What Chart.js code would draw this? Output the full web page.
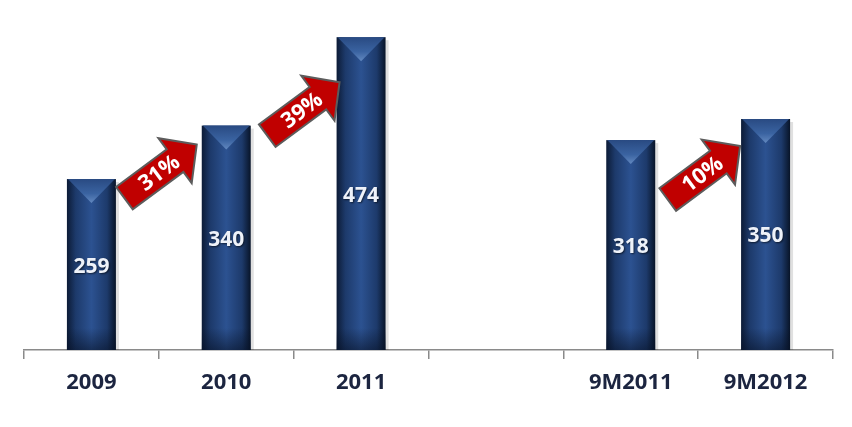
<!DOCTYPE html>
<html>
<head>
<meta charset="utf-8">
<script src="https://cdn.jsdelivr.net/npm/chart.js@4/dist/chart.umd.min.js"></script>
<style>
  html, body { margin: 0; padding: 0; background: #fff; }
  #wrap { width: 852px; height: 427px; }
</style>
</head>
<body>
<div id="wrap"><canvas id="revenueChart"></canvas></div>
<script>
// categories and values
const periods = ["2009", "2010", "2011", "", "9M2011", "9M2012"];
const revenue = [259, 340, 474, null, 318, 350];

// growth arrows: from bar -> to bar, tip shift from the target bar's left edge and drop below its top
const growthPairs = [[0, 1], [1, 2], [4, 5]];
const arrowShift = [-5, 3, -1];
const arrowDrop = [19, 45, 27];

const growthLabel = (a, b) => Math.round((revenue[b] / revenue[a] - 1) * 100) + "%";

// bar face: dark edges, lighter middle, chevron bevel on top
const barDecor = {
  id: "barDecor",
  afterDatasetsDraw(chart) {
    const ctx = chart.ctx;
    const meta = chart.getDatasetMeta(0);
    meta.data.forEach((bar, i) => {
      if (revenue[i] == null) return;
      const left = bar.x - bar.width / 2, right = bar.x + bar.width / 2;
      const top = bar.y, bottom = bar.base;
      ctx.save();

      // soft shadow on the right
      ctx.fillStyle = "rgba(0,0,0,0.12)";
      ctx.fillRect(right, top + 3, 3, bottom - top - 3);

      const g = ctx.createLinearGradient(left, 0, right, 0);
      g.addColorStop(0, "#0c1b36");
      g.addColorStop(0.18, "#1d3a6b");
      g.addColorStop(0.5, "#2c5291");
      g.addColorStop(0.82, "#1d3a6b");
      g.addColorStop(1, "#081428");
      ctx.fillStyle = g;
      ctx.fillRect(left, top, bar.width, bottom - top);

      // darker foot
      const f = ctx.createLinearGradient(0, bottom - 22, 0, bottom);
      f.addColorStop(0, "rgba(6,16,36,0)");
      f.addColorStop(1, "rgba(6,16,36,0.55)");
      ctx.fillStyle = f;
      ctx.fillRect(left, bottom - 22, bar.width, 22);

      // top chevron
      const depth = 24;
      ctx.beginPath();
      ctx.moveTo(left + 1, top);
      ctx.lineTo(right - 1, top);
      ctx.lineTo(bar.x, top + depth);
      ctx.closePath();
      const t = ctx.createLinearGradient(0, top, 0, top + depth);
      t.addColorStop(0, "#294a82");
      t.addColorStop(0.6, "#3a63a1");
      t.addColorStop(1, "#6389c0");
      ctx.fillStyle = t;
      ctx.fill();

      // value label
      ctx.font = "bold 21px 'Open Sans'";
      ctx.textAlign = "center";
      ctx.textBaseline = "middle";
      ctx.shadowColor = "rgba(0,0,0,0.6)";
      ctx.shadowBlur = 2;
      ctx.shadowOffsetX = 1;
      ctx.shadowOffsetY = 1;
      ctx.fillStyle = "#eef2f9";
      ctx.fillText(String(revenue[i]), bar.x, (top + bottom) / 2 + 2);
      ctx.restore();
    });
  }
};

// red growth arrows between bars
const growthArrows = {
  id: "growthArrows",
  afterDraw(chart) {
    const ctx = chart.ctx;
    const bars = chart.getDatasetMeta(0).data;
    const angle = -36.5 * Math.PI / 180;
    growthPairs.forEach(([a, b], k) => {
      const target = bars[b];
      const tipX = target.x - target.width / 2 + arrowShift[k];
      const tipY = target.y + arrowDrop[k];
      ctx.save();
      ctx.translate(tipX, tipY);
      ctx.rotate(angle);
      ctx.beginPath();
      ctx.moveTo(0, 0);
      ctx.lineTo(-27, -28);
      ctx.lineTo(-27, -14);
      ctx.lineTo(-90, -14);
      ctx.lineTo(-90, 14);
      ctx.lineTo(-27, 14);
      ctx.lineTo(-27, 28);
      ctx.closePath();
      ctx.fillStyle = "#c00000";
      ctx.fill();
      ctx.lineWidth = 2;
      ctx.strokeStyle = "#5c5c5c";
      ctx.lineJoin = "miter";
      ctx.stroke();
      ctx.font = "bold 22px 'Open Sans'";
      ctx.textAlign = "center";
      ctx.textBaseline = "middle";
      ctx.fillStyle = "#ffffff";
      ctx.fillText(growthLabel(a, b), -47, 1);
      ctx.restore();
    });
  }
};

new Chart(document.getElementById("revenueChart"), {
  type: "bar",
  data: {
    labels: periods,
    datasets: [{
      data: revenue,
      backgroundColor: "rgba(0,0,0,0)",
      borderWidth: 0,
      barThickness: 49
    }]
  },
  options: {
    responsive: true,
    maintainAspectRatio: false,
    animation: false,
    layout: { padding: { left: 24, right: 19, top: 20, bottom: 0 } },
    plugins: {
      legend: { display: false },
      tooltip: { enabled: false }
    },
    scales: {
      x: {
        afterFit: (scale) => { scale.height = 77; },
        border: { color: "#8a8a8a", width: 1.5 },
        grid: {
          offset: true,
          drawOnChartArea: false,
          drawTicks: true,
          tickLength: 9,
          color: "#8a8a8a",
          lineWidth: 1.5
        },
        ticks: {
          color: "#1c2540",
          font: { family: "'Open Sans'", size: 22, weight: "bold" },
          padding: 11,
          maxRotation: 0
        }
      },
      y: {
        display: false,
        min: 0,
        max: 500
      }
    }
  },
  plugins: [barDecor, growthArrows]
});
</script>
</body>
</html>
